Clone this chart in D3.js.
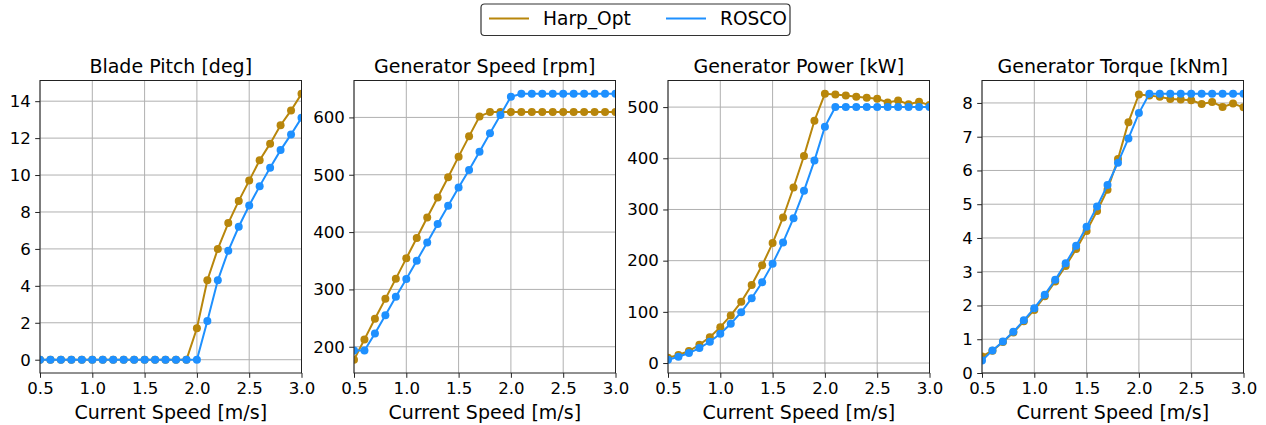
<!DOCTYPE html>
<html>
<head>
<meta charset="utf-8">
<script src="https://cdn.jsdelivr.net/npm/d3@7"></script>
<style>
  html, body { margin: 0; padding: 0; background: #fff; }
  svg { display: block; font-family: "DejaVu Sans", sans-serif; }
</style>
</head>
<body>
<svg id="chart" width="1266" height="425"></svg>
<script>
// ---- data ----
const currentSpeed = [0.5,0.6,0.7,0.8,0.9,1.0,1.1,1.2,1.3,1.4,1.5,1.6,1.7,1.8,1.9,2.0,2.1,2.2,2.3,2.4,2.5,2.6,2.7,2.8,2.9,3.0];
const seriesNames = ["Harp_Opt", "ROSCO"];
const seriesColors = ["#b8860b", "#1e90ff"];

const pitchHarp  = [0,0,0,0,0,0,0,0,0,0,0,0,0,0,0,1.7,4.3,6.0,7.4,8.6,9.7,10.8,11.7,12.7,13.5,14.4];
const pitchRosco = [0,0,0,0,0,0,0,0,0,0,0,0,0,0,0,0,2.1,4.3,5.9,7.2,8.35,9.4,10.4,11.35,12.2,13.1];

const speedHarp  = [177.4,212.8,248.7,283.5,318.8,354.2,389.6,425.5,460.3,495.7,531.6,567.0,601.7,609.3,609.3,609.3,609.3,609.3,609.3,609.3,609.3,609.3,609.3,609.3,609.3,609.3];
const speedRosco = [193.6,193.6,223.2,255.1,287.0,318.3,350.1,382.0,413.9,445.8,477.7,508.4,540.3,572.2,604.1,636.0,641.2,641.2,641.2,641.2,641.2,641.2,641.2,641.2,641.2,641.2];

const powerHarp  = [10.4,15.6,23.4,35.7,50.6,70.1,92.9,119.5,152.6,190.9,234.4,284.4,342.9,404.5,473.4,526.0,524.7,522.7,520.1,518.2,516.2,509.1,513.0,505.8,510.4,503.9];
const powerRosco = [6.5,12.3,19.5,29.2,41.6,57.1,76.6,99.4,126.6,157.8,194.2,235.7,283.1,336.4,395.5,461.7,500,500,500,500,500,500,500,500,500,500];

const torqueHarp  = [0.49,0.66,0.92,1.20,1.53,1.87,2.27,2.71,3.17,3.67,4.21,4.80,5.43,6.34,7.43,8.25,8.22,8.18,8.12,8.10,8.08,7.97,8.03,7.88,7.98,7.87];
const torqueRosco = [0.37,0.67,0.93,1.22,1.56,1.92,2.32,2.76,3.25,3.77,4.33,4.93,5.57,6.23,6.95,7.70,8.27,8.27,8.27,8.27,8.27,8.27,8.27,8.27,8.27,8.27];

const panelTitles = ["Blade Pitch [deg]", "Generator Speed [rpm]", "Generator Power [kW]", "Generator Torque [kNm]"];
const xTicks = [0.5,1.0,1.5,2.0,2.5,3.0];
const yTicks1 = [0,2,4,6,8,10,12,14];
const yTicks2 = [200,300,400,500,600];
const yTicks3 = [0,100,200,300,400,500];
const yTicks4 = [0,1,2,3,4,5,6,7,8];
const xLabel = "Current Speed [m/s]";

// ---- layout ----
const svg = d3.select("#chart");
const panelLefts = [40, 354, 668, 982];
const pw = 261.5, plotTop = 80.5, plotBottom = 373;

const panels = [
  {title: panelTitles[0], data: [pitchHarp, pitchRosco], ticks: yTicks1, fixedMin: null},
  {title: panelTitles[1], data: [speedHarp, speedRosco], ticks: yTicks2, fixedMin: null},
  {title: panelTitles[2], data: [powerHarp, powerRosco], ticks: yTicks3, fixedMin: null},
  {title: panelTitles[3], data: [torqueHarp, torqueRosco], ticks: yTicks4, fixedMin: 0},
];

panels.forEach((p, i) => {
  const left = panelLefts[i];
  const g = svg.append("g");
  const x = d3.scaleLinear().domain([0.5, 3.0]).range([left, left + pw]);
  const all = p.data.flat();
  let lo = d3.min(all), hi = d3.max(all);
  const span = hi - lo;
  let dmin = lo - 0.05 * span, dmax = hi + 0.05 * span;
  if (p.fixedMin !== null) { dmin = p.fixedMin; dmax = hi + 0.05 * (hi - lo); }
  const y = d3.scaleLinear().domain([dmin, dmax]).range([plotBottom, plotTop]);

  const clipId = "clip" + i;
  svg.append("defs").append("clipPath").attr("id", clipId)
    .append("rect").attr("x", left).attr("y", plotTop).attr("width", pw).attr("height", plotBottom - plotTop);

  // grid
  g.selectAll(".gx").data(xTicks).enter().append("line")
    .attr("x1", d => x(d)).attr("x2", d => x(d)).attr("y1", plotTop).attr("y2", plotBottom)
    .attr("stroke", "#b0b0b0").attr("stroke-width", 1);
  g.selectAll(".gy").data(p.ticks).enter().append("line")
    .attr("x1", left).attr("x2", left + pw).attr("y1", d => y(d)).attr("y2", d => y(d))
    .attr("stroke", "#b0b0b0").attr("stroke-width", 1);

  // series
  const plot = g.append("g").attr("clip-path", `url(#${clipId})`);
  p.data.forEach((vals, si) => {
    const pts = currentSpeed.map((c, k) => [c, vals[k]]);
    const line = d3.line().x(d => x(d[0])).y(d => y(d[1]));
    plot.append("path").datum(pts).attr("d", line)
      .attr("fill", "none").attr("stroke", seriesColors[si]).attr("stroke-width", 2);
    plot.selectAll(null).data(pts).enter().append("circle")
      .attr("cx", d => x(d[0])).attr("cy", d => y(d[1])).attr("r", 4)
      .attr("fill", seriesColors[si]);
  });

  // axes
  const xAxis = d3.axisBottom(x).tickValues(xTicks).tickFormat(d3.format(".1f")).tickSize(4.8).tickPadding(4.3);
  const yAxis = d3.axisLeft(y).tickValues(p.ticks).tickFormat(d3.format("d")).tickSize(4.8).tickPadding(4.3);
  const gx = svg.append("g").attr("transform", `translate(0,${plotBottom})`).call(xAxis);
  const gy = svg.append("g").attr("transform", `translate(${left},0)`).call(yAxis);
  [gx, gy].forEach(a => {
    a.select(".domain").remove();
    a.selectAll("line").attr("stroke", "#222").attr("stroke-width", 1);
    a.selectAll("text").attr("fill", "#000").style("font-size", "16.6px").style("font-family", "'DejaVu Sans', sans-serif");
  });

  // frame
  svg.append("rect").attr("x", left).attr("y", plotTop).attr("width", pw).attr("height", plotBottom - plotTop)
    .attr("fill", "none").attr("stroke", "#222").attr("stroke-width", 1);

  // title
  svg.append("text").attr("x", left + pw / 2).attr("y", 72.5).attr("text-anchor", "middle")
    .style("font-size", "19px").attr("fill", "#000").text(p.title);
  // x label
  svg.append("text").attr("x", left + pw / 2).attr("y", 418.5).attr("text-anchor", "middle")
    .style("font-size", "19px").attr("fill", "#000").text(xLabel);
});

// legend
const lg = svg.append("g");
lg.append("rect").attr("x", 481).attr("y", 4).attr("width", 309).attr("height", 31.5)
  .attr("rx", 3.5).attr("fill", "#fff").attr("stroke", "#333").attr("stroke-width", 1.2);
const legendX = [489, 666];
seriesNames.forEach((n, i) => {
  lg.append("line").attr("x1", legendX[i]).attr("x2", legendX[i] + 40).attr("y1", 18.5).attr("y2", 18.5)
    .attr("stroke", seriesColors[i]).attr("stroke-width", 2);
  lg.append("text").attr("x", legendX[i] + 54).attr("y", 25).style("font-size", "18.6px")
    .attr("fill", "#000").text(n);
});
</script>
</body>
</html>
